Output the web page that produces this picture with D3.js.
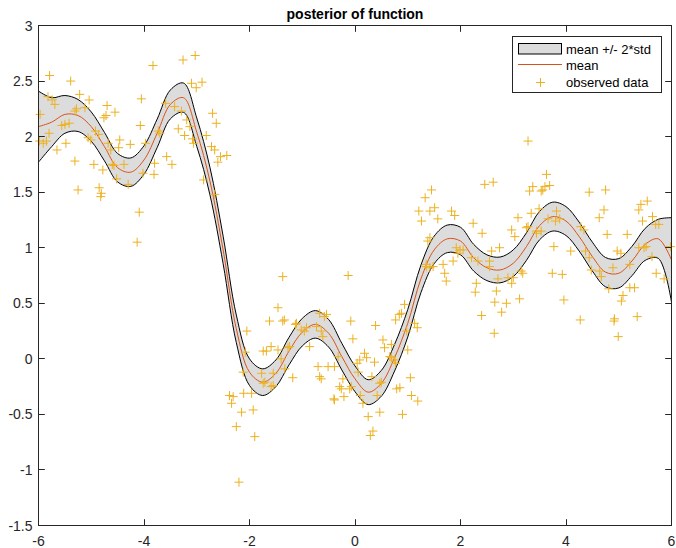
<!DOCTYPE html>
<html>
<head>
<meta charset="utf-8">
<script src="https://cdnjs.cloudflare.com/ajax/libs/d3/7.8.5/d3.min.js"></script>
<style>
	body { margin: 0; background: #fff; }
	svg { display: block; font-family: "Liberation Sans", Arial, Helvetica, sans-serif; }
</style>
</head>
<body>
<div id="chart"></div>
<script>
// posterior grid
var gridX = [-6, -5.75, -5.5, -5.25, -5, -4.75, -4.5, -4.25, -4, -3.75, -3.5, -3.25, -3, -2.75, -2.5, -2.25, -2, -1.75, -1.5, -1.25, -1, -0.75, -0.5, -0.25, 0,
	0.25, 0.5, 0.75, 1, 1.25, 1.5, 1.75, 2, 2.25, 2.5, 2.75, 3, 3.25, 3.5, 3.75, 4, 4.25, 4.5, 4.75, 5, 5.25, 5.5, 5.75, 6];
var meanY = [2.09, 2.13, 2.20, 2.19, 2.09, 1.91, 1.72, 1.68, 1.79, 2.03, 2.29, 2.35, 2.04, 1.60, 0.98, 0.27, -0.12, -0.21, -0.13, 0.07, 0.24, 0.31, 0.23, 0.02, -0.18,
	-0.30, -0.22, 0.01, 0.32, 0.72, 0.98, 1.08, 1.06, 0.91, 0.82, 0.80, 0.86, 1.01, 1.20, 1.28, 1.24, 1.10, 0.92, 0.78, 0.77, 0.88, 1.03, 1.08, 0.89];
var stdY = [0.16, 0.11, 0.085, 0.072, 0.066, 0.064, 0.064, 0.064, 0.064, 0.064, 0.065, 0.066, 0.064, 0.062, 0.062, 0.062, 0.06, 0.06, 0.06, 0.062, 0.062, 0.062, 0.062, 0.06, 0.058,
	0.056, 0.058, 0.06, 0.062, 0.062, 0.062, 0.062, 0.062, 0.06, 0.058, 0.058, 0.06, 0.062, 0.064, 0.065, 0.065, 0.065, 0.065, 0.066, 0.066, 0.066, 0.072, 0.088, 0.19];

var observed = [
	[-5.79, 2.55], [-5.39, 2.50], [-3.83, 2.64], [-3.26, 2.69], [-3.03, 2.73], [-3.10, 2.48], [-3.01, 2.44], [-2.90, 2.49],
	[-4.05, 2.34], [-5.22, 2.38], [-5.04, 2.33], [-5.82, 2.36], [-5.74, 2.33], [-5.69, 2.29], [-5.97, 2.20],
	[-5.28, 2.25], [-5.31, 2.23], [-5.12, 2.26], [-4.70, 2.28], [-4.72, 2.19], [-4.76, 2.17], [-4.55, 2.22],
	[-3.59, 2.30], [-3.42, 2.27], [-3.29, 2.23], [-4.07, 2.10], [-3.73, 2.05], [-3.70, 2.03], [-3.35, 2.07], [-3.19, 2.15], [-3.13, 2.09],
	[-3.23, 2.01], [-3.08, 1.98], [-3.06, 1.94], [-2.82, 2.01], [-2.70, 2.21], [-2.63, 2.12], [-2.72, 1.91], [-2.66, 1.88], [-2.55, 1.82],
	[-2.43, 1.83], [-2.60, 1.77], [-2.87, 1.61], [-2.66, 1.48],
	[-5.98, 1.96], [-5.91, 1.94], [-5.85, 1.96], [-5.80, 2.03], [-5.56, 2.10], [-5.50, 2.11], [-5.42, 2.12], [-5.48, 1.94], [-5.65, 1.88],
	[-5.31, 1.78], [-5.25, 1.52], [-4.85, 1.54], [-4.81, 1.49], [-4.82, 1.46],
	[-5.06, 1.99], [-5.01, 1.97], [-4.92, 2.05], [-4.86, 2.02], [-4.95, 1.75], [-4.78, 1.70], [-4.68, 1.94], [-4.63, 1.88], [-4.60, 1.75],
	[-4.57, 1.74], [-4.52, 1.62], [-4.46, 1.97], [-4.48, 1.90], [-4.38, 1.75], [-4.26, 1.93], [-4.30, 1.57], [-4.02, 1.67], [-3.97, 1.94],
	[-3.80, 1.76], [-3.81, 1.66], [-3.57, 1.82], [-3.47, 1.75], [-4.09, 1.32], [-4.13, 1.05],
	[-1.37, 0.74], [-1.46, 0.46], [-1.62, 0.34], [-1.37, 0.34], [-1.34, 0.35], [-1.13, 0.31], [-1.11, 0.32], [-1.02, 0.26], [-0.96, 0.25],
	[-0.92, 0.28], [-0.67, 0.41], [-0.58, 0.38], [-0.54, 0.40], [-0.73, 0.29], [-0.64, 0.25], [-0.61, 0.20], [-2.05, 0.25],
	[-1.74, 0.07], [-1.68, 0.07], [-1.59, 0.11], [-1.46, 0.08], [-1.40, 0.00], [-1.27, 0.10], [-1.24, 0.11], [-0.86, 0.11], [-2.08, 0.06],
	[-2.12, -0.12], [-1.77, -0.13], [-1.74, -0.22], [-1.71, -0.21], [-1.55, -0.13], [-1.33, -0.09], [-1.18, -0.17], [-1.55, -0.24],
	[-1.59, -0.25], [-0.70, -0.07], [-0.67, -0.16], [-0.64, -0.18], [-0.51, -0.07], [-0.39, -0.37],
	[-2.38, -0.33], [-2.31, -0.34], [-2.34, -0.40], [-2.11, -0.31], [-1.96, -0.31], [-2.15, -0.48], [-1.93, -0.46], [-2.25, -0.61],
	[-1.90, -0.70], [-2.20, -1.11],
	[-0.13, 0.75], [-0.08, 0.34], [-0.04, 0.18], [-0.39, -0.07], [-0.32, 0.02], [-0.23, -0.18], [-0.29, -0.25], [-0.26, -0.27],
	[-0.10, -0.27], [-0.07, -0.25], [-0.40, -0.36], [-0.21, -0.34],
	[0.04, -0.04], [0.09, -0.01], [0.18, 0.05], [0.22, 0.01], [0.06, -0.12], [0.37, -0.03], [0.32, -0.16], [0.10, -0.33], [0.15, -0.40],
	[0.42, -0.33], [0.47, -0.22], [0.50, -0.21], [0.25, -0.52], [0.47, -0.48], [0.34, -0.65], [0.29, -0.69], [0.90, -0.50], [0.79, -0.27],
	[0.85, -0.26], [1.05, -0.17], [1.07, -0.33], [1.19, -0.38],
	[0.39, 0.30], [0.53, 0.17], [0.56, 0.10], [0.69, 0.13], [0.66, 0.02], [0.69, 0.01], [0.75, -0.01], [0.77, -0.04], [1.00, 0.08],
	[0.77, 0.35], [0.84, 0.40], [0.88, 0.41], [0.94, 0.49], [0.98, 0.25], [1.13, 0.32], [1.18, 0.28], [1.35, 0.83], [1.42, 0.82],
	[3.28, 1.96], [2.46, 1.57], [2.62, 1.59], [3.31, 1.51], [3.37, 1.55], [1.45, 1.52], [1.33, 1.45], [1.21, 1.33], [1.42, 1.33],
	[1.51, 1.36], [1.26, 1.24], [1.57, 1.26], [1.83, 1.33], [1.89, 1.29], [2.24, 1.22], [2.41, 1.13], [3.09, 1.27], [2.97, 1.16],
	[3.03, 1.10], [3.25, 1.18], [3.28, 1.19], [3.34, 1.31], [3.44, 1.13],
	[1.42, 1.09], [1.38, 1.06], [1.92, 1.00], [1.99, 0.98], [1.95, 0.95], [2.05, 0.98], [2.21, 0.91], [2.33, 0.88], [2.55, 0.88],
	[2.59, 0.97], [2.74, 1.00], [2.55, 0.83], [1.86, 0.88], [1.67, 0.85], [1.70, 0.77], [1.73, 0.70], [1.35, 0.85], [1.48, 0.83],
	[2.71, 0.72], [2.90, 0.73], [2.97, 0.68], [3.00, 0.73], [3.15, 0.79], [3.18, 0.77], [2.30, 0.68], [2.28, 0.60], [2.68, 0.61],
	[2.65, 0.51], [2.87, 0.50], [2.78, 0.42], [3.12, 0.54], [2.40, 0.39], [2.64, 0.23],
	[3.63, 1.66], [3.60, 1.55], [3.69, 1.56], [3.53, 1.51], [3.56, 1.52], [4.44, 1.50], [4.75, 1.52], [5.54, 1.42], [5.42, 1.39],
	[5.38, 1.34], [4.72, 1.34], [4.63, 1.27], [5.64, 1.28], [5.45, 1.24], [5.70, 1.21], [5.76, 1.21], [3.80, 1.24], [4.28, 1.19],
	[4.34, 1.16], [4.78, 1.12], [5.16, 1.12], [3.77, 1.01], [4.09, 0.97], [4.37, 0.97], [4.44, 0.91], [4.97, 0.97], [5.04, 0.95],
	[5.38, 1.00], [5.48, 1.00], [5.52, 1.01], [5.98, 1.01], [3.74, 0.77], [3.93, 0.76],
	[3.49, 1.35], [3.82, 1.33], [3.66, 1.26], [3.88, 1.26], [3.44, 1.15], [3.53, 1.15],
	[4.89, 0.82], [5.21, 0.85], [4.48, 0.80], [4.64, 0.79], [4.67, 0.74], [5.63, 0.92], [5.71, 0.77], [5.86, 0.72], [4.81, 0.63],
	[5.21, 0.64], [5.30, 0.64], [5.08, 0.57], [5.05, 0.52], [3.96, 0.53], [4.27, 0.35], [4.92, 0.36], [4.91, 0.34], [5.35, 0.38], [4.99, 0.20]
];

var xTicks = [-6, -4, -2, 0, 2, 4, 6];
var yTicks = [-1.5, -1, -0.5, 0, 0.5, 1, 1.5, 2, 2.5, 3];
var legendLabels = ["mean +/- 2*std", "mean", "observed data"];

var width = 676,
	height = 548,
	plotL = 38.5, plotR = 671.5, plotT = 25.5, plotB = 525.5,
	axisColor = "#262626",
	bandFill = "#dcdcdc",
	meanColor = "#d95319",
	dataColor = "#edb120",
	tickLen = 6.3;

var svg = d3.select("#chart").append("svg")
	.attr("width", width)
	.attr("height", height);

var x = d3.scaleLinear().domain([-6, 6]).range([plotL, plotR]);
var y = d3.scaleLinear().domain([-1.5, 3]).range([plotB, plotT]);

var post = gridX.map(function(gx, i) {
	return { x: gx, m: meanY[i], lo: meanY[i] - 2 * stdY[i], hi: meanY[i] + 2 * stdY[i] };
});

var curve = d3.curveCatmullRom.alpha(0.5);

svg.append("path")
	.attr("d", d3.area().curve(curve)
		.x(function(d) { return x(d.x); })
		.y0(function(d) { return y(d.lo); })
		.y1(function(d) { return y(d.hi); })(post))
	.attr("fill", bandFill)
	.attr("stroke", "none");

["lo", "hi"].forEach(function(k) {
	svg.append("path")
		.attr("d", d3.line().curve(curve)
			.x(function(d) { return x(d.x); })
			.y(function(d) { return y(d[k]); })(post))
		.attr("fill", "none")
		.attr("stroke", "#000")
		.attr("stroke-width", 1);
});

svg.append("path")
	.attr("d", d3.line().curve(curve)
		.x(function(d) { return x(d.x); })
		.y(function(d) { return y(d.m); })(post))
	.attr("fill", "none")
	.attr("stroke", meanColor)
	.attr("stroke-width", 1);

function plus(cx, cy, r) {
	return "M" + (cx - r) + "," + cy + "H" + (cx + r) + "M" + cx + "," + (cy - r) + "V" + (cy + r);
}

svg.append("path")
	.attr("d", observed.map(function(d) { return plus(x(d[0]), y(d[1]), 4.5); }).join(""))
	.attr("fill", "none")
	.attr("stroke", dataColor)
	.attr("stroke-width", 1);

// axes box with inward ticks on all sides
var ax = svg.append("g").attr("stroke", axisColor).attr("stroke-width", 1).attr("fill", "none");
ax.append("rect")
	.attr("x", plotL).attr("y", plotT)
	.attr("width", plotR - plotL).attr("height", plotB - plotT);

xTicks.forEach(function(t) {
	var px = Math.round(x(t)) + 0.5;
	if (t === 6) px = plotR;
	if (t === -6) px = plotL;
	ax.append("path").attr("d", "M" + px + "," + plotB + "v" + (-tickLen) + "M" + px + "," + plotT + "v" + tickLen);
	svg.append("text")
		.attr("x", x(t)).attr("y", plotB + 20.5)
		.attr("text-anchor", "middle")
		.attr("font-size", 14)
		.attr("fill", axisColor)
		.text(t);
});

yTicks.forEach(function(t) {
	var py = Math.round(y(t) - 0.5) + 0.5;
	ax.append("path").attr("d", "M" + plotL + "," + py + "h" + tickLen + "M" + plotR + "," + py + "h" + (-tickLen));
	svg.append("text")
		.attr("x", plotL - 6).attr("y", y(t) + 5)
		.attr("text-anchor", "end")
		.attr("font-size", 14)
		.attr("fill", axisColor)
		.text(t);
});

svg.append("text")
	.attr("x", (plotL + plotR) / 2).attr("y", 19)
	.attr("text-anchor", "middle")
	.attr("font-size", 14)
	.attr("font-weight", "bold")
	.attr("fill", "#000")
	.text("posterior of function");

// legend
var lg = svg.append("g");
lg.append("rect")
	.attr("x", 512.5).attr("y", 36.5).attr("width", 149).attr("height", 56)
	.attr("fill", "#fff").attr("stroke", axisColor).attr("stroke-width", 1);
lg.append("rect")
	.attr("x", 518.5).attr("y", 43.5).attr("width", 43).attr("height", 10.5)
	.attr("fill", bandFill).attr("stroke", "#000").attr("stroke-width", 1);
lg.append("line")
	.attr("x1", 518).attr("x2", 562).attr("y1", 64.5).attr("y2", 64.5)
	.attr("stroke", meanColor).attr("stroke-width", 1);
lg.append("path")
	.attr("d", plus(540.5, 82.5, 4.5))
	.attr("stroke", dataColor).attr("stroke-width", 1);
legendLabels.forEach(function(s, i) {
	lg.append("text")
		.attr("x", 566).attr("y", 54 + i * 16.4)
		.attr("font-size", 13)
		.attr("fill", "#000")
		.text(s);
});
</script>
</body>
</html>
